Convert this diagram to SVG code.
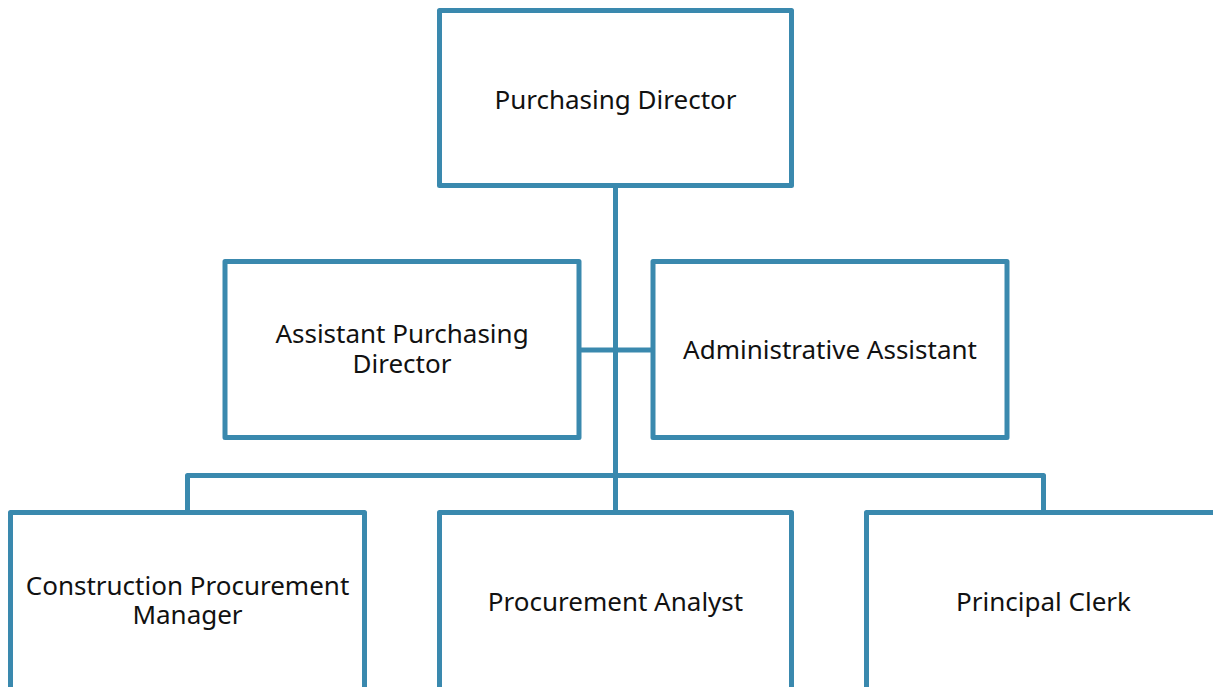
<svg xmlns="http://www.w3.org/2000/svg" width="1213" height="687" viewBox="0 0 1213 687">
<style>
.box{fill:#fff;stroke:#3a89ae;stroke-width:5;stroke-linejoin:round}
.ln{fill:none;stroke:#3a89ae;stroke-width:5;stroke-linejoin:round}
.t{font-family:"Noto Sans","Open Sans",sans-serif;font-size:26px;fill:#111;text-anchor:middle}
</style>
<rect width="1213" height="687" fill="#fff"/>
<g id="connectors">
<path class="ln" d="M615.5 185.5V512.5"/>
<path class="ln" d="M579 350H653"/>
<path class="ln" d="M187.5 512.5V475.5H1043.5V512.5"/>
</g>
<g id="purchasing-director">
<rect class="box" x="439.5" y="10.5" width="352" height="175"/>
<text class="t" x="615.5" y="109">Purchasing Director</text>
</g>
<g id="assistant-purchasing-director">
<rect class="box" x="225" y="261.5" width="354" height="176"/>
<text class="t" x="402" y="343">Assistant Purchasing<tspan x="402" dy="29.5">Director</tspan></text>
</g>
<g id="administrative-assistant">
<rect class="box" x="653" y="261.5" width="354" height="176"/>
<text class="t" x="830" y="359">Administrative Assistant</text>
</g>
<g id="construction-procurement-manager">
<rect class="box" x="10.5" y="512.5" width="354" height="200"/>
<text class="t" x="187.5" y="595">Construction Procurement<tspan x="187.5" dy="29">Manager</tspan></text>
</g>
<g id="procurement-analyst">
<rect class="box" x="439.5" y="512.5" width="352" height="200"/>
<text class="t" x="615.5" y="610.5">Procurement Analyst</text>
</g>
<g id="principal-clerk">
<rect class="box" x="866.5" y="512.5" width="354" height="200"/>
<text class="t" x="1043.5" y="610.5">Principal Clerk</text>
</g>
</svg>
